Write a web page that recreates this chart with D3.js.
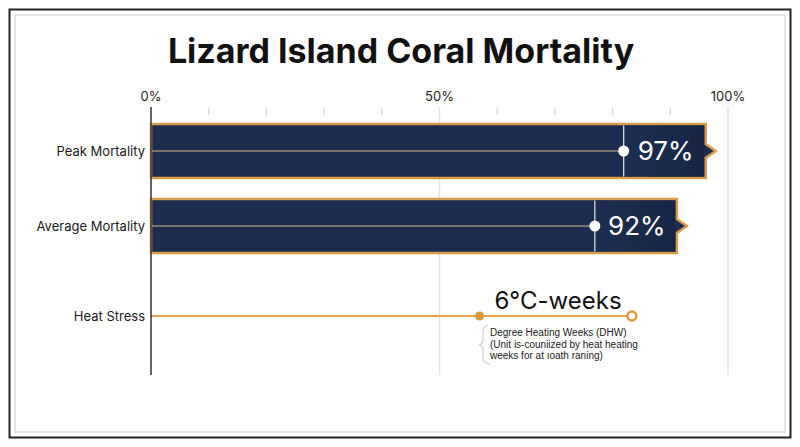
<!DOCTYPE html>
<html lang="en">
<head>
  <meta charset="UTF-8" />
  <title>Lizard Island Coral Mortality</title>
  <style>
  body {
    margin: 0;
    background: #fff;
  }
  svg {
    display: block;
    font-family: 'Inter', 'Liberation Sans', sans-serif;
  }
  .cat-label {
    font-size: 13px;
    fill: #1a1a1a;
  }
  .tick-label {
    font-size: 13px;
    fill: #222;
  }
  .note {
    font-family: 'Liberation Sans', Arial, sans-serif;
    font-size: 10px;
    fill: #222;
  }
  </style>
</head>
<body>
  <div id="chart"></div>

  <script src="https://cdn.jsdelivr.net/npm/d3@7"></script>
<script>
  const categories = ["Peak Mortality", "Average Mortality"];
  const mortality = [97, 92];
  const heatCategory = "Heat Stress";
  const dhwValue = 6;          // degree heating weeks
  const dhwMarker = 4.1;       // small filled dot on the heat line
  const dhwLabel = "6°C-weeks";
  const dhwNote = [
    "Degree Heating Weeks (DHW)",
    "(Unit is-couniized by heat heating",
    "weeks for at ıoath raning)"
  ];
  const majorTicks = [0, 50, 100];
  const minorTicks = [10, 20, 30, 40, 60, 70, 80, 90];
  const gridTicks = [50, 100];

  const W = 800, H = 447;
  const navy = "#1b2c4e";
  const gold = "#d99c48";

  const svg = d3.select("#chart").append("svg")
    .attr("width", W)
    .attr("height", H);

  const defs = svg.append("defs");
  const grad = defs.append("linearGradient")
    .attr("id", "labelbox")
    .attr("x1", "0%").attr("x2", "100%");
  grad.append("stop").attr("offset", "0%").attr("stop-color", "#1c2e51");
  grad.append("stop").attr("offset", "100%").attr("stop-color", "#172644");

  const blur = defs.append("filter").attr("id", "glow")
    .attr("x", "-5%").attr("y", "-200%").attr("width", "110%").attr("height", "500%");
  blur.append("feGaussianBlur").attr("stdDeviation", 2);

  // frame
  svg.append("rect")
    .attr("x", 9.5).attr("y", 9.5).attr("width", 781).attr("height", 428)
    .attr("fill", "none").attr("stroke", "#222").attr("stroke-width", 2);
  svg.append("rect")
    .attr("x", 15).attr("y", 15).attr("width", 770).attr("height", 417)
    .attr("fill", "none").attr("stroke", "#dcdcdc").attr("stroke-width", 1.5);

  svg.append("text")
    .attr("x", 401).attr("y", 63)
    .attr("text-anchor", "middle")
    .attr("font-size", 34)
    .attr("font-weight", 700)
    .attr("fill", "#111")
    .text("Lizard Island Coral Mortality");

  const x = d3.scaleLinear().domain([0, 100]).range([151, 728]);
  // DHW shares the row width but runs on its own scale
  const xd = d3.scaleLinear().domain([0, 7.2]).range(x.range());
  const y = d3.scaleOrdinal()
    .domain([...categories, heatCategory])
    .range([151, 226, 316]);

  const plotTop = 107, plotBottom = 375;
  const barH = 54;

  // grid + ticks
  svg.selectAll(".grid").data(gridTicks).join("line")
    .attr("x1", d => x(d)).attr("x2", d => x(d))
    .attr("y1", plotTop).attr("y2", plotBottom)
    .attr("stroke", "#e3e3e3").attr("stroke-width", 1.5);

  svg.selectAll(".minor").data(minorTicks).join("line")
    .attr("x1", d => x(d)).attr("x2", d => x(d))
    .attr("y1", 108).attr("y2", 115)
    .attr("stroke", "#d4d4d4").attr("stroke-width", 1.2);

  svg.selectAll(".tick-label").data(majorTicks).join("text")
    .attr("class", "tick-label")
    .attr("x", d => x(d))
    .attr("y", 101)
    .attr("text-anchor", "middle")
    .text(d => d + "%");

  svg.selectAll(".cat-label").data([...categories, heatCategory]).join("text")
    .attr("class", "cat-label")
    .attr("x", 145)
    .attr("y", d => y(d))
    .attr("dy", "0.35em")
    .attr("text-anchor", "end")
    .text(d => d);

  // mortality bars with an arrow notch on the right end
  const boxW = 82;
  const bars = categories.map((c, i) => ({ cat: c, v: mortality[i] }));

  const g = svg.selectAll(".bar").data(bars).join("g").attr("class", "bar");

  g.append("path")
    .attr("d", d => {
      const x0 = x(0), x1 = x(d.v) - 5, cy = y(d.cat);
      const t = cy - barH / 2, b = cy + barH / 2;
      return `M${x0},${t}H${x1}V${cy - 7}L${x1 + 10},${cy}L${x1},${cy + 7}V${b}H${x0}Z`;
    })
    .attr("fill", navy)
    .attr("stroke", gold)
    .attr("stroke-width", 2.5)
    .attr("stroke-linejoin", "miter");

  // label box area
  g.append("rect")
    .attr("x", d => x(d.v) - 5 - boxW)
    .attr("y", d => y(d.cat) - barH / 2 + 1.5)
    .attr("width", boxW - 1.5)
    .attr("height", barH - 3)
    .attr("fill", "url(#labelbox)");

  g.append("line")
    .attr("x1", d => x(d.v) - 5 - boxW).attr("x2", d => x(d.v) - 5 - boxW)
    .attr("y1", d => y(d.cat) - barH / 2 + 1.5)
    .attr("y2", d => y(d.cat) + barH / 2 - 1.5)
    .attr("stroke", "#e8e8e8").attr("stroke-width", 1.2);

  g.append("line")
    .attr("x1", x(0) + 1)
    .attr("x2", d => x(d.v) - 5 - boxW)
    .attr("y1", d => y(d.cat)).attr("y2", d => y(d.cat))
    .attr("stroke", "#9a8a76").attr("stroke-width", 1.5);

  g.append("circle")
    .attr("cx", d => x(d.v) - 5 - boxW)
    .attr("cy", d => y(d.cat))
    .attr("r", 5.5)
    .attr("fill", "#fff");

  g.append("text")
    .attr("x", d => x(d.v) - 5 - boxW / 2 + 1)
    .attr("y", d => y(d.cat))
    .attr("dy", "0.36em")
    .attr("text-anchor", "middle")
    .attr("font-size", 26)
    .attr("fill", "#fff")
    .text(d => d.v + "%");

  // heat stress line
  const hy = y(heatCategory);
  svg.append("line")
    .attr("x1", x(0)).attr("x2", xd(dhwValue))
    .attr("y1", hy).attr("y2", hy)
    .attr("stroke", "#f4bd70").attr("stroke-width", 6)
    .attr("opacity", 0.7)
    .attr("filter", "url(#glow)");
  svg.append("line")
    .attr("x1", x(0)).attr("x2", xd(dhwValue))
    .attr("y1", hy).attr("y2", hy)
    .attr("stroke", "#e6a34a").attr("stroke-width", 2.2);

  svg.append("circle")
    .attr("cx", xd(dhwMarker)).attr("cy", hy).attr("r", 4.5)
    .attr("fill", "#d9963e");
  svg.append("circle")
    .attr("cx", xd(dhwValue)).attr("cy", hy).attr("r", 4.5)
    .attr("fill", "#fff")
    .attr("stroke", "#dd9a40").attr("stroke-width", 2.5);

  svg.append("text")
    .attr("x", 558).attr("y", 309)
    .attr("text-anchor", "middle")
    .attr("font-size", 24)
    .attr("fill", "#111")
    .text(dhwLabel);

  // brace and note
  svg.append("path")
    .attr("d", "M488,325 Q483,326 483,332 L483,340 Q483,344 479,345 Q483,346 483,350 L483,358 Q483,363 490,364")
    .attr("fill", "none")
    .attr("stroke", "#cfcfcf")
    .attr("stroke-width", 1.2);

  svg.selectAll(".note").data(dhwNote).join("text")
    .attr("class", "note")
    .attr("x", 490)
    .attr("y", (d, i) => 336 + i * 11.6)
    .text(d => d);

  // y axis line
  svg.append("line")
    .attr("x1", x(0)).attr("x2", x(0))
    .attr("y1", plotTop).attr("y2", plotBottom)
    .attr("stroke", "#333").attr("stroke-width", 1.5);
</script>
</body>
</html>
